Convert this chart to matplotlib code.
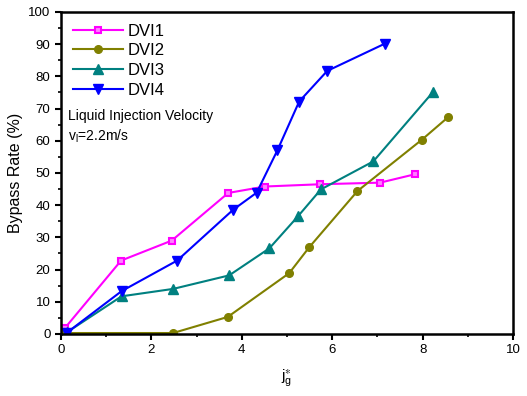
import matplotlib.pyplot as plt

plt.rcParams['font.family'] = ['Liberation Sans', 'DejaVu Sans']
plt.rcParams['mathtext.fontset'] = 'custom'
plt.rcParams['mathtext.rm'] = 'Liberation Sans'
plt.rcParams['mathtext.it'] = 'Liberation Sans'

dvi1_x = [0.09, 1.33, 2.45, 3.70, 4.51, 5.73, 7.06, 7.83]
dvi1_y = [1.9, 22.8, 29.0, 43.8, 45.8, 46.5, 47.0, 49.6]
dvi2_x = [0.0, 2.48, 3.69, 5.05, 5.49, 6.56, 7.99, 8.57]
dvi2_y = [0.3, 0.3, 5.3, 18.9, 26.9, 44.4, 60.4, 67.4]
dvi3_x = [0.13, 1.34, 2.48, 3.72, 4.61, 5.24, 5.75, 6.91, 8.24]
dvi3_y = [0.5, 11.7, 14.0, 18.2, 26.6, 36.5, 44.9, 53.6, 75.3]
dvi4_x = [0.13, 1.34, 2.57, 3.81, 4.33, 4.79, 5.27, 5.89, 7.17]
dvi4_y = [0.4, 13.3, 22.8, 38.6, 43.9, 57.1, 72.2, 81.7, 90.2]


def main():
    fig = plt.figure(figsize=(5.27, 3.96), dpi=100)
    ax = fig.add_axes([0.1157, 0.1566, 0.8577, 0.8131])

    ax.plot(dvi1_x, dvi1_y, color='#FF00FF', lw=1.5, marker='s', ms=5,
            mfc='#FF80FF', mec='#FF00FF', mew=1.5, label='DVI1')
    ax.plot(dvi2_x, dvi2_y, color='#808000', lw=1.5, marker='o', ms=5.5,
            label='DVI2')
    ax.plot(dvi3_x, dvi3_y, color='#008080', lw=1.5, marker='^', ms=7.5,
            label='DVI3')
    ax.plot(dvi4_x, dvi4_y, color='#0000FF', lw=1.5, marker='v', ms=7.5,
            label='DVI4')

    ax.set_xlim(0, 10)
    ax.set_ylim(0, 100)
    ax.set_xticks([0, 2, 4, 6, 8, 10])
    ax.set_xticks([1, 3, 5, 7, 9], minor=True)
    ax.set_yticks(range(0, 101, 10))
    ax.set_yticks(range(5, 100, 10), minor=True)
    ax.tick_params(labelsize=9.5, width=1.5, length=4, direction='out')
    ax.tick_params(which='minor', width=1.2, length=2.5, direction='out')
    for s in ax.spines.values():
        s.set_linewidth(1.8)

    ax.set_ylabel('Bypass Rate (%)', fontsize=11.5, labelpad=4)
    ax.set_xlabel(r'$\mathregular{j_g^{\ast}}$', fontsize=11, labelpad=8)

    ax.text(0.015, 0.70, 'Liquid Injection Velocity', transform=ax.transAxes,
            fontsize=10, va='top')
    ax.text(0.015, 0.64, r'v$_\mathregular{l}$=2.2m/s', transform=ax.transAxes,
            fontsize=10, va='top')

    ax.legend(loc='upper left', bbox_to_anchor=(0.0, 1.0), frameon=False,
              fontsize=12, handlelength=3.0, handletextpad=0.3,
              labelspacing=0.28, borderaxespad=0.3)

    fig.savefig('out.png', dpi=100)


if __name__ == '__main__':
    main()
